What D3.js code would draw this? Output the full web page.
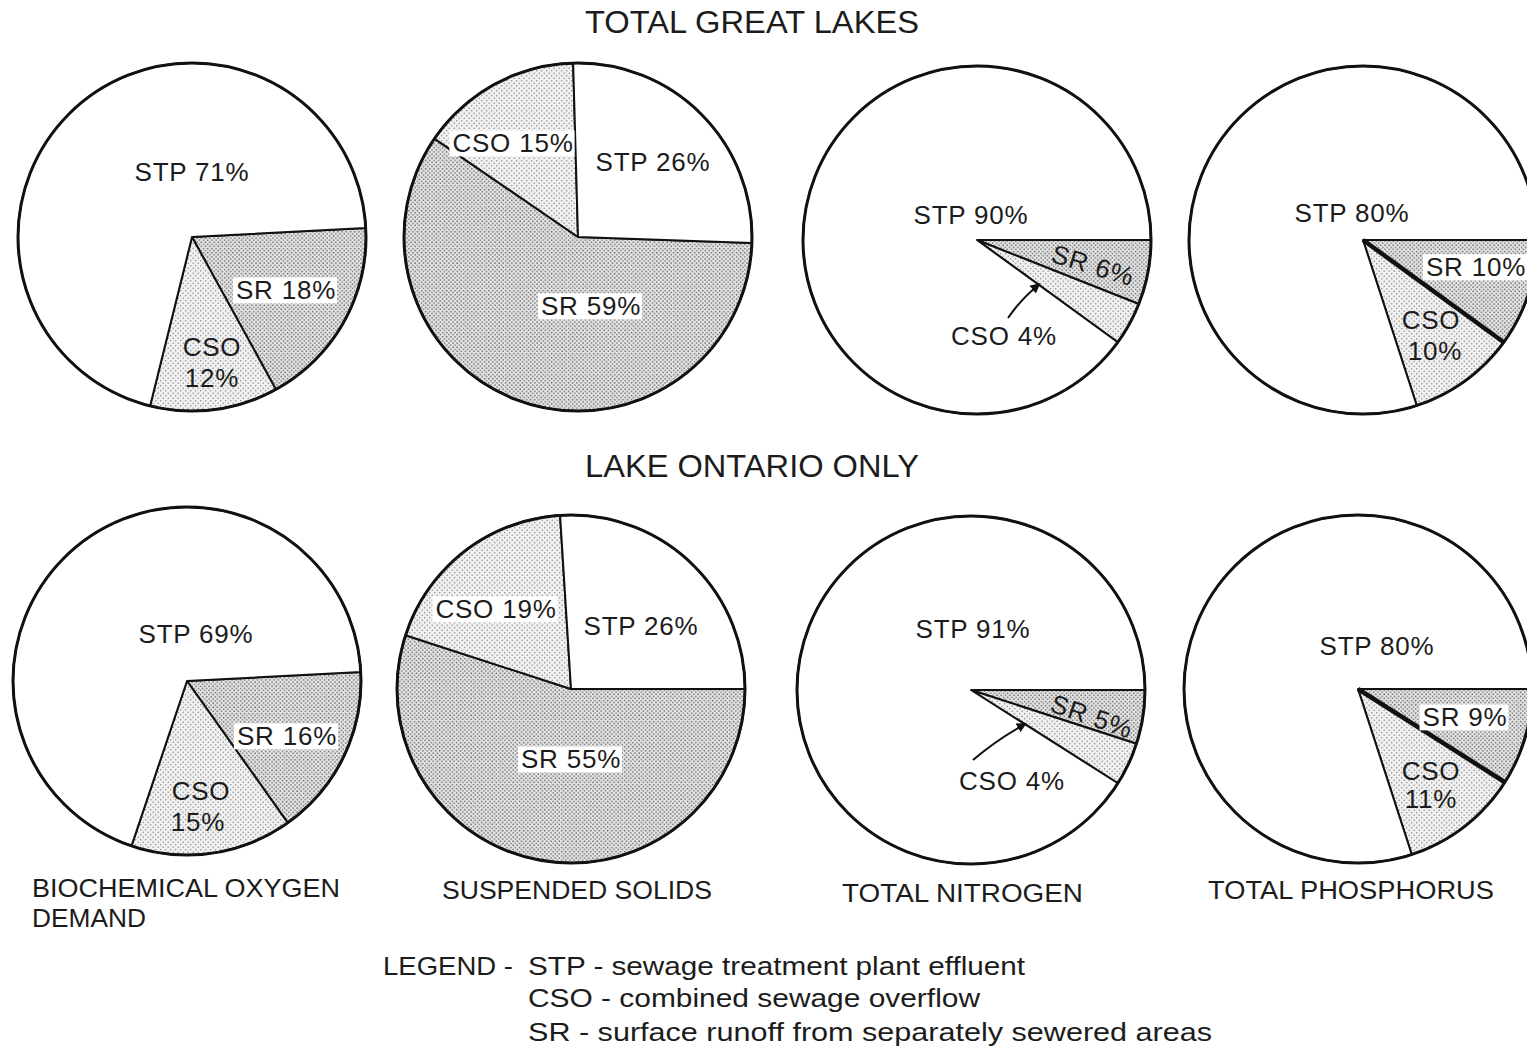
<!DOCTYPE html>
<html>
<head>
<meta charset="utf-8">
<script src="https://cdn.jsdelivr.net/npm/d3@7"></script>
<style>
  body { margin: 0; background: #fff; }
  text { font-family: "Liberation Sans", Arial, sans-serif; fill: #1c1c1c; }
</style>
</head>
<body>
<div id="chart"></div>
<script>
// ---- data ----
var regions = ["TOTAL GREAT LAKES", "LAKE ONTARIO ONLY"];
var parameters = [["BIOCHEMICAL OXYGEN", "DEMAND"], ["SUSPENDED SOLIDS"], ["TOTAL NITROGEN"], ["TOTAL PHOSPHORUS"]];
var sources = ["SR", "CSO", "STP"];

// percent of loading by source, one value per parameter (BOD, SS, TN, TP)
var greatLakesSR  = [18, 59, 6, 10];
var greatLakesCSO = [12, 15, 4, 10];
var greatLakesSTP = [71, 26, 90, 80];
var ontarioSR  = [16, 55, 5, 9];
var ontarioCSO = [15, 19, 4, 11];
var ontarioSTP = [69, 26, 91, 80];

var legendCodes = ["STP", "CSO", "SR"];
var legendTexts = ["sewage treatment plant effluent", "combined sewage overflow", "surface runoff from separately sewered areas"];

// ---- layout ----
var w = 1527, h = 1050, r = 174;
var centers = [
  [[192, 237], [578, 237], [977, 240], [1363, 240]],
  [[187, 681], [571, 689], [971, 690], [1358, 689]]
];
var startDeg = [[87, 92, 90, 90], [87, 90, 90, 90]];
var titleY = [33, 477];

// label placement relative to each pie centre
var labelPos = [
  [
    {STP: {x: 0, y: -65}, SR: {x: 94, y: 53, box: true}, CSO: {x: 20, y: 110, x2: 20, y2: 141}},
    {STP: {x: 75, y: -75}, SR: {x: 13, y: 69, box: true}, CSO: {x: -65, y: -94, box: true}},
    {STP: {x: -6, y: -25}, SR: {x: 116, y: 25, rot: 17}, CSO: {x: 27, y: 96, arrow: {tx: 31, ty: 78, rf: 0.44}}},
    {STP: {x: -11, y: -27}, SR: {x: 113, y: 27, box: true}, CSO: {x: 68, y: 80, x2: 72, y2: 111}}
  ],
  [
    {STP: {x: 9, y: -47}, SR: {x: 100, y: 55, box: true}, CSO: {x: 14, y: 110, x2: 11, y2: 141}},
    {STP: {x: 70, y: -63}, SR: {x: 0, y: 70, box: true}, CSO: {x: -75, y: -80, box: true}},
    {STP: {x: 2, y: -61}, SR: {x: 121, y: 26, rot: 19}, CSO: {x: 41, y: 91, arrow: {tx: 2, ty: 70, rf: 0.37}}},
    {STP: {x: 19, y: -43}, SR: {x: 107, y: 28, box: true}, CSO: {x: 73, y: 82, x2: 73, y2: 110}}
  ]
];
var heavySplit = [false, false, false, true];   // thick SR/CSO divider on phosphorus pies

var bottomLabels = [
  {x: 32, y: [897, 927], len: [308, 114]},
  {x: 442, y: [899], len: [270]},
  {x: 842, y: [902], len: [241]},
  {x: 1208, y: [899], len: [286]}
];

var fills = {STP: "#ffffff", SR: "url(#dotsSR)", CSO: "url(#dotsCSO)"};

var svg = d3.select("#chart").append("svg")
  .attr("width", w)
  .attr("height", h);

// stipple patterns
var defs = svg.append("defs");
var pSR = defs.append("pattern").attr("id", "dotsSR")
  .attr("patternUnits", "userSpaceOnUse").attr("width", 4.2).attr("height", 4.2);
pSR.append("rect").attr("width", 4.2).attr("height", 4.2).attr("fill", "#e6e6e6");
pSR.append("circle").attr("cx", 1).attr("cy", 1).attr("r", 0.85).attr("fill", "#6c6c6c");
pSR.append("circle").attr("cx", 3.1).attr("cy", 3.1).attr("r", 0.85).attr("fill", "#6c6c6c");

var pCSO = defs.append("pattern").attr("id", "dotsCSO")
  .attr("patternUnits", "userSpaceOnUse").attr("width", 5).attr("height", 5);
pCSO.append("rect").attr("width", 5).attr("height", 5).attr("fill", "#f0f0f0");
pCSO.append("circle").attr("cx", 1.2).attr("cy", 1.2).attr("r", 0.75).attr("fill", "#8c8c8c");
pCSO.append("circle").attr("cx", 3.7).attr("cy", 3.7).attr("r", 0.75).attr("fill", "#8c8c8c");

defs.append("marker").attr("id", "arrowHead")
  .attr("viewBox", "0 0 10 10").attr("refX", 9).attr("refY", 5)
  .attr("markerWidth", 5).attr("markerHeight", 5).attr("orient", "auto")
  .append("path").attr("d", "M0,0 L10,5 L0,10 z").attr("fill", "#111");

var arc = d3.arc().innerRadius(0).outerRadius(r);
var rad = Math.PI / 180;

// titles
regions.forEach(function(t, i) {
  svg.append("text")
    .attr("x", 752).attr("y", titleY[i])
    .attr("text-anchor", "middle")
    .attr("font-size", 31)
    .attr("textLength", 334).attr("lengthAdjust", "spacingAndGlyphs")
    .text(t);
});

var rowsSR = [greatLakesSR, ontarioSR];
var rowsCSO = [greatLakesCSO, ontarioCSO];
var rowsSTP = [greatLakesSTP, ontarioSTP];

function addLabel(g, txt, x, y, opts) {
  var t = g.append("text")
    .attr("x", x).attr("y", y)
    .attr("dy", "0.36em")
    .attr("text-anchor", "middle")
    .attr("font-size", 26)
    .attr("letter-spacing", 0.8)
    .text(txt);
  if (opts && opts.rot) t.attr("transform", "rotate(" + opts.rot + "," + x + "," + y + ")");
  if (opts && opts.box) {
    var b = t.node().getBBox();
    g.insert("rect", function() { return t.node(); })
      .attr("x", b.x - 3).attr("y", b.y + 2)
      .attr("width", b.width + 4).attr("height", b.height - 4)
      .attr("fill", "#ffffff");
  }
  return t;
}

for (var row = 0; row < 2; row++) {
  for (var col = 0; col < 4; col++) {
    var values = {SR: rowsSR[row][col], CSO: rowsCSO[row][col], STP: rowsSTP[row][col]};
    var slices = sources.map(function(s) { return {source: s, value: values[s]}; });
    var s0 = startDeg[row][col] * rad;
    var pie = d3.pie().sort(null).value(function(d) { return d.value; })
      .startAngle(s0).endAngle(s0 + 2 * Math.PI);
    var arcs = pie(slices);
    var c = centers[row][col];
    var g = svg.append("g").attr("transform", "translate(" + c[0] + "," + c[1] + ")");

    g.selectAll("path.slice")
      .data(arcs)
      .enter().append("path")
      .attr("class", "slice")
      .attr("d", arc)
      .attr("fill", function(d) { return fills[d.data.source]; })
      .attr("stroke", "#111")
      .attr("stroke-width", 2)
      .attr("stroke-linejoin", "round");

    if (heavySplit[col]) {
      var a = arcs[0].endAngle;
      g.append("line")
        .attr("x1", 0).attr("y1", 0)
        .attr("x2", r * Math.sin(a)).attr("y2", -r * Math.cos(a))
        .attr("stroke", "#111").attr("stroke-width", 4.5);
    }

    g.append("circle").attr("r", r)
      .attr("fill", "none").attr("stroke", "#111").attr("stroke-width", 3);

    var lp = labelPos[row][col];
    addLabel(g, "STP " + values.STP + "%", lp.STP.x, lp.STP.y);
    addLabel(g, "SR " + values.SR + "%", lp.SR.x, lp.SR.y, lp.SR);
    if (lp.CSO.x2 !== undefined) {
      addLabel(g, "CSO", lp.CSO.x, lp.CSO.y);
      addLabel(g, values.CSO + "%", lp.CSO.x2, lp.CSO.y2);
    } else {
      addLabel(g, "CSO " + values.CSO + "%", lp.CSO.x, lp.CSO.y, lp.CSO);
    }
    if (lp.CSO.arrow) {
      var ar = lp.CSO.arrow;
      var ea = arcs[1].endAngle - 1 * rad;
      var hx = r * ar.rf * Math.sin(ea), hy = -r * ar.rf * Math.cos(ea);
      var mx = (ar.tx + hx) / 2 - 3, my = (ar.ty + hy) / 2 - 2;
      g.append("path")
        .attr("d", "M" + ar.tx + "," + ar.ty + " Q" + mx + "," + my + " " + hx + "," + hy)
        .attr("fill", "none").attr("stroke", "#111").attr("stroke-width", 2)
        .attr("marker-end", "url(#arrowHead)");
    }
  }
}

// parameter names under the lower row
parameters.forEach(function(lines, i) {
  var bl = bottomLabels[i];
  lines.forEach(function(line, j) {
    svg.append("text")
      .attr("x", bl.x).attr("y", bl.y[j])
      .attr("font-size", 26)
      .attr("textLength", bl.len[j]).attr("lengthAdjust", "spacingAndGlyphs")
      .text(line);
  });
});

// legend
var legendX = 383, codeX = 528, legendY = [975, 1007, 1041];
svg.append("text")
  .attr("x", legendX).attr("y", legendY[0])
  .attr("font-size", 26)
  .attr("textLength", 130).attr("lengthAdjust", "spacingAndGlyphs")
  .text("LEGEND -");
var legendLens = [497, 452, 684];
legendCodes.forEach(function(code, i) {
  svg.append("text")
    .attr("x", codeX).attr("y", legendY[i])
    .attr("font-size", 26)
    .attr("textLength", legendLens[i]).attr("lengthAdjust", "spacingAndGlyphs")
    .text(code + " - " + legendTexts[i]);
});
</script>
</body>
</html>
